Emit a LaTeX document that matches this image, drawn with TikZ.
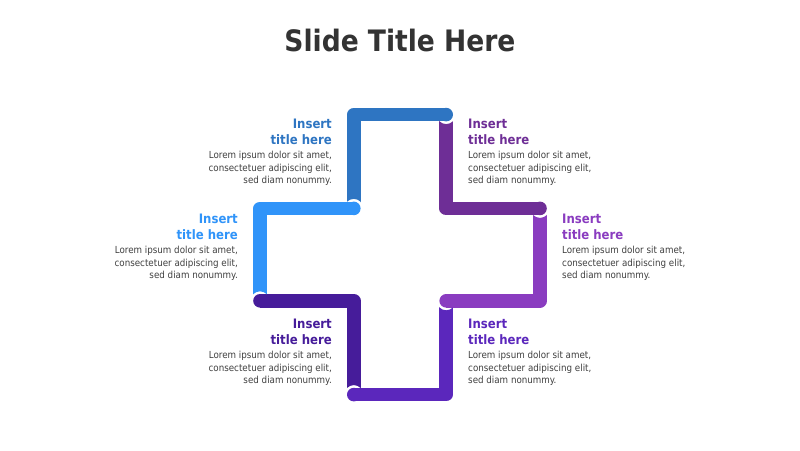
\documentclass[tikz,border=0pt]{standalone}
\usepackage{fontspec}
\setmainfont{DejaVu Sans Condensed}
\begin{document}
\begin{tikzpicture}[x=1pt,y=-1pt,
  bar/.style={line width=13.6pt,line cap=butt,line join=round},
  ttl/.style={inner sep=0pt,font=\bfseries\fontsize{13}{15.5}\selectfont},
  bdy/.style={inner sep=0pt,text=bodygray,font=\fontsize{9.7}{12.4}\selectfont},
  rgt/.style={anchor=north east,align=right},
  lft/.style={anchor=north west,align=left}]
\definecolor{cA}{HTML}{2E75C2}
\definecolor{cB}{HTML}{6E2E96}
\definecolor{cC}{HTML}{8A3CC0}
\definecolor{cD}{HTML}{5B27BC}
\definecolor{cE}{HTML}{461C9A}
\definecolor{cF}{HTML}{3094F9}
\definecolor{bodygray}{HTML}{404040}
\definecolor{titlegray}{HTML}{333333}
\useasboundingbox (0,0) rectangle (800,450);
\fill[white] (0,0) rectangle (800,450);
% grid points
\coordinate (a) at (353.8,208.4);
\coordinate (b) at (353.8,114.6);
\coordinate (c) at (446.2,114.6);
\coordinate (d) at (446.2,208.4);
\coordinate (e) at (540,208.4);
\coordinate (f) at (540,300.8);
\coordinate (g) at (446.2,300.8);
\coordinate (h) at (446.2,394.6);
\coordinate (i) at (353.8,394.6);
\coordinate (j) at (353.8,300.8);
\coordinate (k) at (260,300.8);
\coordinate (l) at (260,208.4);
% pieces
\begin{scope}[even odd rule]
\clip (0,0) rectangle (800,450) (a) circle[radius=9.5];
\draw[bar,cA] (a) -- (b) -- (c);
\end{scope}
\fill[cA] (c) circle[radius=6.8];
\begin{scope}[even odd rule]
\clip (0,0) rectangle (800,450) (c) circle[radius=9.5];
\draw[bar,cB] (c) -- (d) -- (e);
\end{scope}
\fill[cB] (e) circle[radius=6.8];
\begin{scope}[even odd rule]
\clip (0,0) rectangle (800,450) (e) circle[radius=9.5];
\draw[bar,cC] (e) -- (f) -- (g);
\end{scope}
\fill[cC] (g) circle[radius=6.8];
\begin{scope}[even odd rule]
\clip (0,0) rectangle (800,450) (g) circle[radius=9.5];
\draw[bar,cD] (g) -- (h) -- (i);
\end{scope}
\fill[cD] (i) circle[radius=6.8];
\begin{scope}[even odd rule]
\clip (0,0) rectangle (800,450) (i) circle[radius=9.5];
\draw[bar,cE] (i) -- (j) -- (k);
\end{scope}
\fill[cE] (k) circle[radius=6.8];
\begin{scope}[even odd rule]
\clip (0,0) rectangle (800,450) (k) circle[radius=9.5];
\draw[bar,cF] (k) -- (l) -- (a);
\end{scope}
\fill[cF] (a) circle[radius=6.8];
% title
\node[anchor=base,inner sep=0pt,text=titlegray,font=\bfseries\fontsize{29.5}{32}\selectfont] (title) at (400,51.7) {Slide Title Here};
% text blocks
\node[ttl,rgt,text=cA] (t1) at (332,119.3) {Insert\\title here};
\node[bdy,rgt] (b1) at (332,151.2) {Lorem ipsum dolor sit amet,\\consectetuer adipiscing elit,\\sed diam nonummy.};
\node[ttl,lft,text=cB] (t2) at (468,119.3) {Insert\\title here};
\node[bdy,lft] (b2) at (468,151.2) {Lorem ipsum dolor sit amet,\\consectetuer adipiscing elit,\\sed diam nonummy.};
\node[ttl,rgt,text=cF] (t3) at (238,214.3) {Insert\\title here};
\node[bdy,rgt] (b3) at (238,246.2) {Lorem ipsum dolor sit amet,\\consectetuer adipiscing elit,\\sed diam nonummy.};
\node[ttl,lft,text=cC] (t4) at (562,214.3) {Insert\\title here};
\node[bdy,lft] (b4) at (562,246.2) {Lorem ipsum dolor sit amet,\\consectetuer adipiscing elit,\\sed diam nonummy.};
\node[ttl,rgt,text=cE] (t5) at (332,319.3) {Insert\\title here};
\node[bdy,rgt] (b5) at (332,351.2) {Lorem ipsum dolor sit amet,\\consectetuer adipiscing elit,\\sed diam nonummy.};
\node[ttl,lft,text=cD] (t6) at (468,319.3) {Insert\\title here};
\node[bdy,lft] (b6) at (468,351.2) {Lorem ipsum dolor sit amet,\\consectetuer adipiscing elit,\\sed diam nonummy.};
\end{tikzpicture}
\end{document}
